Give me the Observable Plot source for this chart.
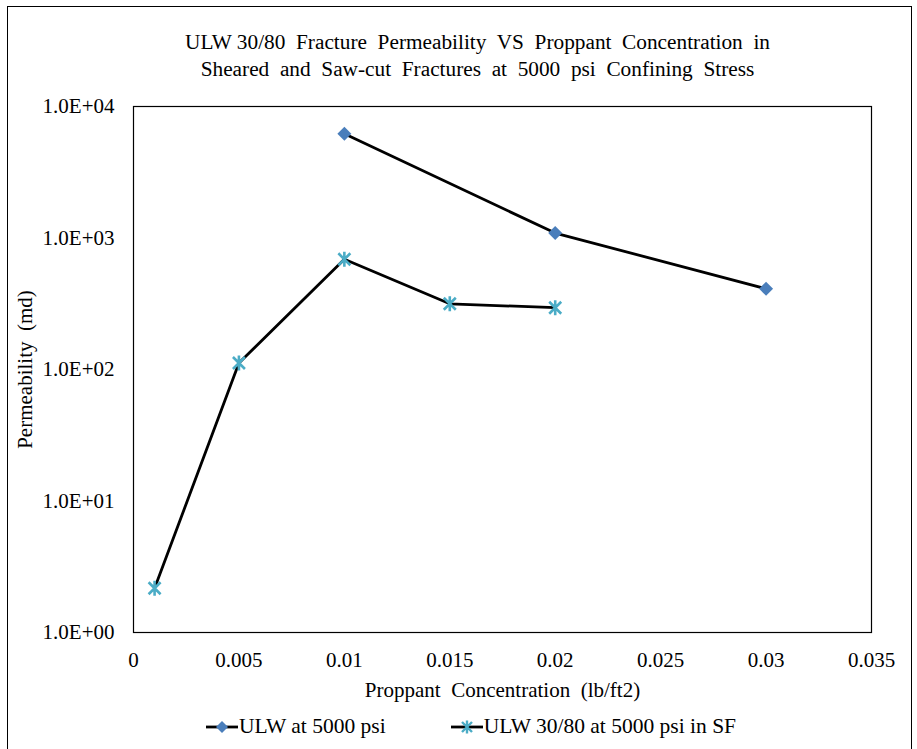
<!DOCTYPE html>
<html>
<head>
<meta charset="utf-8">
<script src="https://cdn.jsdelivr.net/npm/d3@7"></script>
<script src="https://cdn.jsdelivr.net/npm/@observablehq/plot@0.6"></script>
<style>
  html, body { margin: 0; padding: 0; background: #fff; }
  #wrap { position: relative; width: 917px; height: 749px; overflow: hidden; font-family: "Liberation Serif", "Times New Roman", serif; color: #000; }
  #border { position: absolute; left: 7px; top: 6px; width: 905px; height: 760px; border: 1.5px solid #000; box-sizing: border-box; }
  #title { position: absolute; left: 19px; width: 917px; top: 29px; text-align: center; font-size: 21.3px; line-height: 27px; white-space: pre; }
  #chart { position: absolute; left: 0; top: 0; }
  #chart svg text { font-family: "Liberation Serif", "Times New Roman", serif; }
  #legend { position: absolute; left: 12px; width: 917px; top: 714px; display: flex; justify-content: center; align-items: center; font-size: 21.5px; white-space: pre; }
  .item { display: flex; align-items: center; margin: 0 32px; }
</style>
</head>
<body>
<div id="wrap">
  <div id="border"></div>
  <div id="title">ULW 30/80  Fracture  Permeability  VS  Proppant  Concentration  in
Sheared  and  Saw-cut  Fractures  at  5000  psi  Confining  Stress</div>
  <div id="chart"></div>
  <div id="legend"></div>
</div>
<script>
// ---- data ----
const seriesNames = ["ULW at 5000 psi", "ULW 30/80 at 5000 psi in SF"];
const ulwX = [0.01, 0.02, 0.03];
const ulwY = [6200, 1090, 411];
const sfX = [0.001, 0.005, 0.01, 0.015, 0.02];
const sfY = [2.17, 112, 689, 316, 295];
const xTicks = [0, 0.005, 0.01, 0.015, 0.02, 0.025, 0.03, 0.035];
const yTicks = [1, 10, 100, 1000, 10000];
const xLabel = "Proppant  Concentration  (lb/ft2)";
const yLabel = "Permeability  (md)";

const blue = "#4A7EBB";
const cyan = "#4BACC6";

const ulw = ulwX.map((x, i) => ({x, y: ulwY[i]}));
const sf = sfX.map((x, i) => ({x, y: sfY[i]}));

const starSymbol = {
  draw(ctx, size) {
    const r = Math.sqrt(size / Math.PI);
    const d = r * 0.8;
    ctx.moveTo(0, -r); ctx.lineTo(0, r);
    ctx.moveTo(-d, -d); ctx.lineTo(d, d);
    ctx.moveTo(-d, d); ctx.lineTo(d, -d);
  }
};

const fmtY = d => "1.0E+" + String(Math.round(Math.log10(d))).padStart(2, "0");
const fmtX = d => d === 0 ? "0" : String(+d.toFixed(3));

const chart = Plot.plot({
  width: 917,
  height: 700,
  marginLeft: 133,
  marginRight: 46,
  marginTop: 106,
  marginBottom: 68,
  style: {fontFamily: "'Liberation Serif', 'Times New Roman', serif", fontSize: "21px", color: "#000", background: "transparent", overflow: "visible"},
  x: {domain: [0, 0.035]},
  y: {type: "log", domain: [1, 10000]},
  marks: [
    Plot.frame({stroke: "#000", strokeWidth: 1.2}),
    Plot.axisX({ticks: xTicks, tickFormat: fmtX, tickSize: 0, tickPadding: 20, label: xLabel, labelAnchor: "center", labelArrow: "none", labelOffset: 64, fontSize: 21}),
    Plot.axisY({ticks: yTicks, tickFormat: fmtY, tickSize: 0, tickPadding: 19, label: yLabel, labelAnchor: "center", labelArrow: "none", labelOffset: 116, fontSize: 21}),
    Plot.line(ulw, {x: "x", y: "y", stroke: "#000", strokeWidth: 2.8}),
    Plot.line(sf, {x: "x", y: "y", stroke: "#000", strokeWidth: 2.8}),
    Plot.dot(ulw, {x: "x", y: "y", symbol: "diamond2", r: 6.3, fill: blue, stroke: "none"}),
    Plot.dot(sf, {x: "x", y: "y", symbol: starSymbol, r: 7.5, fill: "none", stroke: cyan, strokeWidth: 2.6})
  ]
});
document.getElementById("chart").appendChild(chart);

// legend
const legend = document.getElementById("legend");
function swatch(kind) {
  const ns = "http://www.w3.org/2000/svg";
  const s = document.createElementNS(ns, "svg");
  s.setAttribute("width", 34); s.setAttribute("height", 16);
  const l = document.createElementNS(ns, "line");
  l.setAttribute("x1", 1); l.setAttribute("x2", 33); l.setAttribute("y1", 8); l.setAttribute("y2", 8);
  l.setAttribute("stroke", "#000"); l.setAttribute("stroke-width", 2.8);
  s.appendChild(l);
  const p = document.createElementNS(ns, "path");
  if (kind === 0) {
    p.setAttribute("d", "M17,2L23,8L17,14L11,8Z");
    p.setAttribute("fill", blue);
  } else {
    p.setAttribute("d", "M17,1.5V14.5M12,3L22,13M12,13L22,3");
    p.setAttribute("stroke", cyan); p.setAttribute("stroke-width", 2.4); p.setAttribute("fill", "none");
  }
  s.appendChild(p);
  return s;
}
seriesNames.forEach((name, i) => {
  const it = document.createElement("div");
  it.className = "item";
  it.appendChild(swatch(i));
  const t = document.createElement("span");
  t.textContent = name;
  it.appendChild(t);
  legend.appendChild(it);
});
</script>
</body>
</html>
